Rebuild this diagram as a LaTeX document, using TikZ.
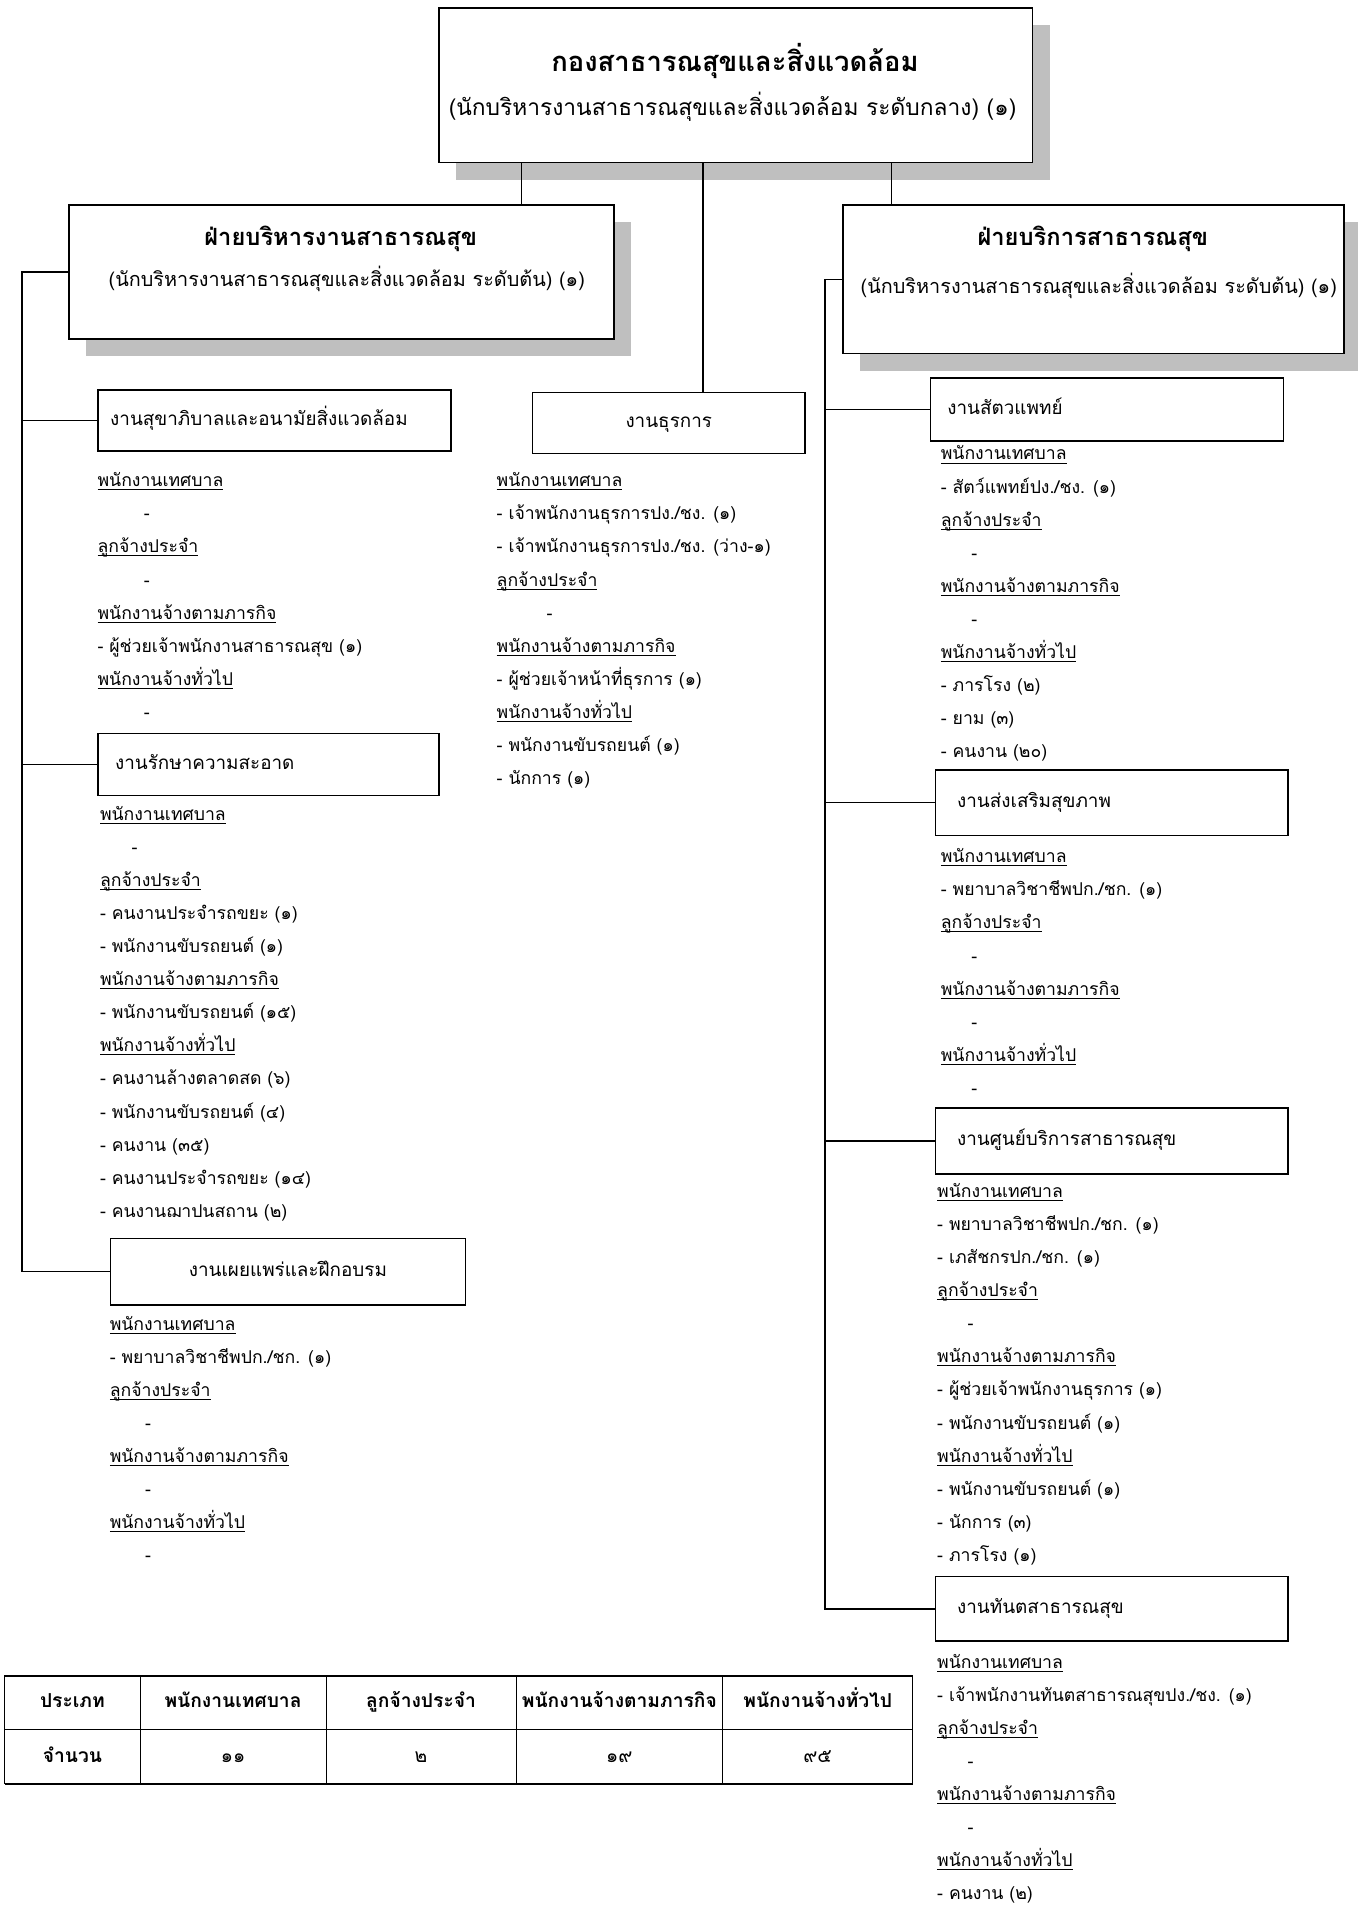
\documentclass[tikz,border=0pt]{standalone}
\usepackage{fontspec}
\setmainfont[Script=Thai]{Loma}
\usetikzlibrary{shadows}

\newlength\vacantskip
\newcommand\grp[1]{\sbox0{#1}\rlap{\rule[-2.8pt]{\wd0}{0.7pt}}\usebox0}
\newcommand\vacant{\hspace*{\vacantskip}-}
\newcommand\stafflist[5]{%
  \setlength\vacantskip{#4pt}%
  \foreach \entry [count=\i from 0] in {#5}
    \node[item] (#1-\i) at (#2,{#3+\i*27.2}) {\entry};}

\begin{document}
\begin{tikzpicture}[
        x=1pt, y=-1pt,
        head/.style={draw, line width=1.3pt, fill=white, inner sep=0pt, anchor=north west,
          drop shadow={shadow xshift=14pt, shadow yshift=-14pt, fill=black!25, opacity=1}},
        sec/.style={draw, line width=1.2pt, fill=white, anchor=north west, inner xsep=14pt,
          align=left, text height=11pt, text depth=3pt, font=\fontsize{15.5}{18}\selectfont},
        secc/.style={sec, align=center},
        title/.style={inner sep=0pt, font=\bfseries\fontsize{19.5}{23}\selectfont},
        subtitle/.style={inner sep=0pt, font=\fontsize{16.3}{19}\selectfont},
        item/.style={anchor=west, inner sep=0pt, text height=11pt, text depth=3pt,
          font=\fontsize{14.5}{17}\selectfont},
        cell/.style={inner sep=0pt, text height=11pt, text depth=3pt, font=\fontsize{15.8}{18}\selectfont},
        hcell/.style={cell, font=\bfseries\fontsize{15.8}{18}\selectfont},
        link/.style={line width=1.2pt},
        ]
        \useasboundingbox (0,0) rectangle (1116,1568);

        \node[head, minimum width=488pt, minimum height=127pt] (dept) at (360,6) {};
        \node[inner sep=0pt, font=\bfseries\fontsize{22.5}{26}\selectfont] (deptt) at (604,50) {กองสาธารณสุขและสิ่งแวดล้อม};
        \node[inner sep=0pt, font=\fontsize{18.7}{22}\selectfont] (depts) at (602,88) {(นักบริหารงานสาธารณสุขและสิ่งแวดล้อม ระดับกลาง) (๑)};

        \node[head, minimum width=448pt, minimum height=110pt] (admin) at (56,168) {};
        \node[title] (admint) at (280,196) {ฝ่ายบริหารงานสาธารณสุข};
        \node[subtitle] (admins) at (285,229) {(นักบริหารงานสาธารณสุขและสิ่งแวดล้อม ระดับต้น) (๑)};

        \node[head, minimum width=412pt, minimum height=122pt] (serv) at (692,168) {};
        \node[title] (servt) at (898,196) {ฝ่ายบริการสาธารณสุข};
        \node[subtitle] (servs) at (903,235) {(นักบริหารงานสาธารณสุขและสิ่งแวดล้อม ระดับต้น) (๑)};

        \node[sec, inner xsep=10pt, minimum width=290pt, minimum height=50pt, text width=270pt] (sani) at (80,320) {งานสุขาภิบาลและอนามัยสิ่งแวดล้อม};
        \node[sec, minimum width=280pt, minimum height=51pt, text width=252pt] (cln) at (80,602) {งานรักษาความสะอาด};
        \node[secc, minimum width=292pt, minimum height=55pt] (pub) at (90,1017) {งานเผยแพร่และฝึกอบรม};
        \node[secc, minimum width=224pt, minimum height=50pt] (adm) at (437,322) {งานธุรการ};
        \node[sec, minimum width=290pt, minimum height=52pt, text width=262pt] (vet) at (764,310) {งานสัตวแพทย์};
        \node[sec, inner xsep=18pt, minimum width=290pt, minimum height=54pt, text width=254pt] (prom) at (768,632) {งานส่งเสริมสุขภาพ};
        \node[sec, inner xsep=18pt, minimum width=290pt, minimum height=54pt, text width=254pt] (ctr) at (768,910) {งานศูนย์บริการสาธารณสุข};
        \node[sec, inner xsep=18pt, minimum width=290pt, minimum height=53pt, text width=254pt] (dent) at (768,1295) {งานทันตสาธารณสุข};

        \draw[link] ([xshift=-176pt]dept.south) -- ([xshift=-176pt]dept.south |- admin.north);
        \draw[link] ([xshift=-27pt]dept.south) -- ([xshift=-27pt]dept.south |- adm.north);
        \draw[link] ([xshift=128pt]dept.south) -- ([xshift=128pt]dept.south |- serv.north);
        \coordinate (lbus) at (18,0);
        \coordinate (rbus) at (678,0);
        \draw[link] (admin.west) -| (lbus |- pub.west) -- (pub.west);
        \draw[link] (lbus |- sani.west) -- (sani.west);
        \draw[link] (lbus |- cln.west) -- (cln.west);
        \draw[link] (serv.west) -| (rbus |- dent.west) -- (dent.west);
        \foreach \u in {vet, prom, ctr}
          \draw[link] (rbus |- \u.west) -- (\u.west);

        \stafflist{sanl}{80}{396}{38}{\grp{พนักงานเทศบาล}, \vacant, \grp{ลูกจ้างประจำ}, \vacant,
          \grp{พนักงานจ้างตามภารกิจ}, - ผู้ช่วยเจ้าพนักงานสาธารณสุข (๑), \grp{พนักงานจ้างทั่วไป}, \vacant}
        \stafflist{clnl}{82}{670}{26}{\grp{พนักงานเทศบาล}, \vacant, \grp{ลูกจ้างประจำ},
          - คนงานประจำรถขยะ (๑), - พนักงานขับรถยนต์ (๑), \grp{พนักงานจ้างตามภารกิจ},
          - พนักงานขับรถยนต์ (๑๕), \grp{พนักงานจ้างทั่วไป}, - คนงานล้างตลาดสด (๖),
          - พนักงานขับรถยนต์ (๔), - คนงาน (๓๕), - คนงานประจำรถขยะ (๑๔), - คนงานฌาปนสถาน (๒)}
        \stafflist{publ}{90}{1089}{29}{\grp{พนักงานเทศบาล}, {- พยาบาลวิชาชีพปก./ชก. (๑)}, \grp{ลูกจ้างประจำ}, \vacant,
          \grp{พนักงานจ้างตามภารกิจ}, \vacant, \grp{พนักงานจ้างทั่วไป}, \vacant}
        \stafflist{adml}{408}{396}{41}{\grp{พนักงานเทศบาล}, {- เจ้าพนักงานธุรการปง./ชง. (๑)},
          {- เจ้าพนักงานธุรการปง./ชง. (ว่าง-๑)}, \grp{ลูกจ้างประจำ}, \vacant, \grp{พนักงานจ้างตามภารกิจ},
          - ผู้ช่วยเจ้าหน้าที่ธุรการ (๑), \grp{พนักงานจ้างทั่วไป}, - พนักงานขับรถยนต์ (๑), - นักการ (๑)}
        \stafflist{vetl}{773}{374}{25}{\grp{พนักงานเทศบาล}, {- สัตว์แพทย์ปง./ชง. (๑)}, \grp{ลูกจ้างประจำ}, \vacant,
          \grp{พนักงานจ้างตามภารกิจ}, \vacant, \grp{พนักงานจ้างทั่วไป}, - ภารโรง (๒), - ยาม (๓), - คนงาน (๒๐)}
        \stafflist{proml}{773}{705}{25}{\grp{พนักงานเทศบาล}, {- พยาบาลวิชาชีพปก./ชก. (๑)}, \grp{ลูกจ้างประจำ}, \vacant,
          \grp{พนักงานจ้างตามภารกิจ}, \vacant, \grp{พนักงานจ้างทั่วไป}, \vacant}
        \stafflist{ctrl}{770}{980}{25}{\grp{พนักงานเทศบาล}, {- พยาบาลวิชาชีพปก./ชก. (๑)}, {- เภสัชกรปก./ชก. (๑)},
          \grp{ลูกจ้างประจำ}, \vacant, \grp{พนักงานจ้างตามภารกิจ}, - ผู้ช่วยเจ้าพนักงานธุรการ (๑),
          - พนักงานขับรถยนต์ (๑), \grp{พนักงานจ้างทั่วไป}, - พนักงานขับรถยนต์ (๑), - นักการ (๓), - ภารโรง (๑)}
        \stafflist{dentl}{770}{1367}{25}{\grp{พนักงานเทศบาล}, {- เจ้าพนักงานทันตสาธารณสุขปง./ชง. (๑)}, \grp{ลูกจ้างประจำ}, \vacant,
          \grp{พนักงานจ้างตามภารกิจ}, \vacant, \grp{พนักงานจ้างทั่วไป}, - คนงาน (๒)}

        \draw[line width=0.7pt] (4,1377) rectangle (750,1466);
        \draw[line width=0.7pt] (4,1421) -- (750,1421);
        \draw[line width=1.6pt] (4,1377) -- (750,1377) (4,1466) -- (750,1466);
        \foreach \c in {115,268,424,594}
          \draw[line width=0.7pt] (\c,1377) -- (\c,1466);
        \node[hcell] (h0) at (59.5,1399) {ประเภท};
        \node[hcell] (n0) at (59.5,1444) {จำนวน};
        \foreach \cx/\hdr/\num [count=\k] in {191.5/พนักงานเทศบาล/๑๑, 346/ลูกจ้างประจำ/๒,
            509/พนักงานจ้างตามภารกิจ/๑๙, 672/พนักงานจ้างทั่วไป/๙๕} {
          \node[hcell] (h\k) at (\cx,1399) {\hdr};
          \node[cell] (n\k) at (\cx,1444) {\num};
        }
\end{tikzpicture}
\end{document}
